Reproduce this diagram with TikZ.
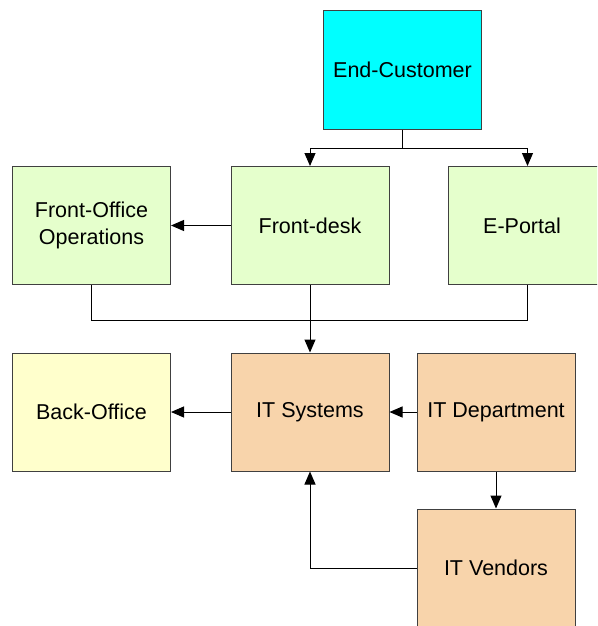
\documentclass[tikz,border=0pt]{standalone}
\usepackage{fontspec}
\setmainfont{Liberation Sans}
\usetikzlibrary{arrows.meta}
\definecolor{cyanfill}{HTML}{00FFFF}
\definecolor{greenfill}{HTML}{E5FFCC}
\definecolor{yellowfill}{HTML}{FFFFCC}
\definecolor{peachfill}{HTML}{F8D4AB}
\definecolor{edgegray}{HTML}{404040}
\tikzset{
  boxfont/.style={font=\fontsize{21.5}{27}\selectfont},
  box/.style={draw=edgegray, line width=1pt, minimum width=158pt, minimum height=118pt, inner sep=0pt, align=center, boxfont},
  conn/.style={draw=black, line width=1pt},
  arr/.style={conn, -{Triangle[width=11pt,length=13pt]}},
}
\begin{document}
\begin{tikzpicture}[x=1pt,y=-1pt]
\useasboundingbox (0,0) rectangle (597,626);
\clip (0,0) rectangle (597,626);
\node[box, fill=cyanfill] (ec) at (402.5,70) {End-Customer};
\node[box, fill=greenfill] (fo) at (91.5,225.5) {Front-Office\\Operations};
\node[box, fill=greenfill] (fd) at (310,225.5) {Front-desk};
\node[box, fill=greenfill] (ep) at (527.5,225.5) {};
\node[boxfont] (eptext) at (522,226) {E-Portal};
\node[box, fill=yellowfill] (bo) at (91.5,412) {Back-Office};
\node[box, fill=peachfill] (its) at (310,412) {IT Systems};
\node[box, fill=peachfill] (itd) at (496,412) {IT Department};
\node[box, fill=peachfill] (itv) at (496,568) {IT Vendors};
\coordinate (j1) at (402.5,148);
\coordinate (j2) at (310,320);
% End-Customer to Front-desk and E-Portal
\draw[conn] (ec.south) -- (j1);
\draw[arr] (j1) -| (fd.north);
\draw[arr] (j1) -| (ep.north);
% Front-desk to Front-Office
\draw[arr] (fd.west) -- (fo.east);
% Front row merged to IT Systems
\draw[conn] (fo.south) |- (j2);
\draw[conn] (ep.south) |- (j2);
\draw[arr] (fd.south) -- (its.north);
% IT Systems to Back-Office
\draw[arr] (its.west) -- (bo.east);
% IT Department to IT Systems
\draw[arr] (itd.west) -- (its.east);
% IT Department to IT Vendors
\draw[arr] (itd.south) -- (itv.north);
% IT Vendors to IT Systems
\draw[arr] (itv.west) -| (its.south);
\end{tikzpicture}
\end{document}
